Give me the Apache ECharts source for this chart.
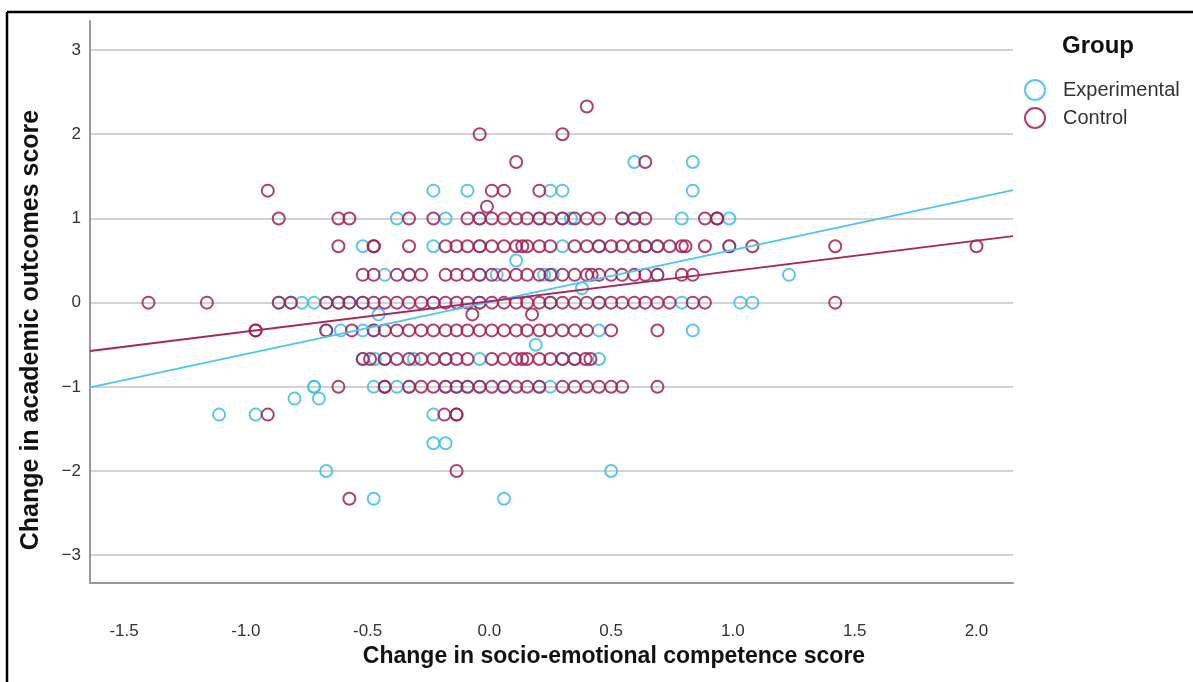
<!DOCTYPE html>
<html>
<head>
<meta charset="utf-8">
<script src="https://cdn.jsdelivr.net/npm/echarts@6/dist/echarts.min.js"></script>
<style>
  html, body { margin: 0; padding: 0; background: #fff; }
  #chart { width: 1193px; height: 682px; }
</style>
</head>
<body>
<div id="chart"></div>
<script>
// score levels (y) and the x positions of circles on each level
var yLevels = [2.33, 2, 1.67, 1.33, 1.14, 1, 0.67, 0.5, 0.33, 0.17, 0, -0.14, -0.33, -0.5, -0.67, -1, -1.14, -1.33, -1.67, -2, -2.33];

var expX = [
  [],
  [],
  [0.595, 0.835],
  [-0.23, -0.09, 0.25, 0.30, 0.835],
  [],
  [-0.38, -0.18, -0.04, 0.205, 0.30, 0.335, 0.545, 0.595, 0.79, 0.985],
  [-0.52, -0.23, -0.04, 0.30, 0.45, 0.64, 0.69, 0.985],
  [0.11],
  [-0.43, -0.33, -0.04, 0.03, 0.225, 0.26, 0.69, 1.23],
  [0.38],
  [-0.865, -0.815, -0.77, -0.72, -0.67, -0.62, -0.575, -0.52, -0.23, -0.04, 0.25, 0.45, 0.79, 1.03, 1.08],
  [-0.455],
  [-0.67, -0.61, -0.52, -0.475, 0.45, 0.835],
  [0.19],
  [-0.52, -0.47, -0.43, -0.31, -0.18, -0.04, 0.30, 0.35, 0.45],
  [-0.72, -0.72, -0.475, -0.38, -0.33, -0.18, -0.135, -0.09, -0.04, 0.06, 0.205, 0.25],
  [-0.80, -0.70],
  [-1.11, -0.96, -0.23],
  [-0.23, -0.18],
  [-0.67, 0.50],
  [-0.475, 0.06]
];

var ctrlX = [
  [0.40],
  [-0.04, 0.30],
  [0.11, 0.64],
  [-0.91, 0.01, 0.06, 0.205],
  [-0.01],
  [-0.865, -0.62, -0.575, -0.33, -0.23, -0.09, -0.04, 0.01, 0.06, 0.11, 0.155, 0.205, 0.25, 0.30, 0.35, 0.40, 0.45, 0.545, 0.595, 0.64, 0.885, 0.935, 0.935],
  [-0.62, -0.475, -0.475, -0.33, -0.18, -0.135, -0.09, -0.04, 0.01, 0.06, 0.11, 0.135, 0.155, 0.205, 0.25, 0.35, 0.40, 0.45, 0.50, 0.545, 0.595, 0.64, 0.69, 0.74, 0.79, 0.805, 0.885, 0.985, 1.08, 1.42, 2.0],
  [],
  [-0.52, -0.475, -0.38, -0.33, -0.28, -0.18, -0.135, -0.09, -0.04, 0.01, 0.06, 0.11, 0.155, 0.205, 0.25, 0.30, 0.35, 0.40, 0.42, 0.45, 0.50, 0.545, 0.595, 0.64, 0.69, 0.79, 0.835],
  [],
  [-1.40, -1.16, -0.865, -0.815, -0.67, -0.62, -0.575, -0.52, -0.475, -0.43, -0.38, -0.33, -0.28, -0.23, -0.18, -0.135, -0.09, -0.04, 0.01, 0.06, 0.11, 0.155, 0.205, 0.25, 0.30, 0.35, 0.40, 0.45, 0.50, 0.545, 0.595, 0.64, 0.69, 0.74, 0.835, 0.885, 1.42],
  [-0.07, 0.175],
  [-0.96, -0.96, -0.67, -0.565, -0.475, -0.43, -0.38, -0.33, -0.28, -0.23, -0.18, -0.135, -0.09, -0.04, 0.01, 0.06, 0.11, 0.155, 0.205, 0.25, 0.30, 0.35, 0.40, 0.50, 0.69],
  [],
  [-0.52, -0.49, -0.43, -0.38, -0.33, -0.28, -0.23, -0.18, -0.135, -0.09, 0.01, 0.06, 0.11, 0.135, 0.155, 0.205, 0.25, 0.30, 0.35, 0.395, 0.415],
  [-0.62, -0.43, -0.43, -0.33, -0.28, -0.23, -0.18, -0.135, -0.09, -0.04, 0.01, 0.06, 0.11, 0.155, 0.205, 0.30, 0.35, 0.40, 0.45, 0.50, 0.545, 0.69],
  [],
  [-0.91, -0.185, -0.135, -0.135],
  [],
  [-0.135],
  [-0.575]
];

// fit lines: [slope, intercept]
var expFit = [0.618, 0.008];
var ctrlFit = [0.36, 0.016];

var xTicks = [-1.5, -1.0, -0.5, 0.0, 0.5, 1.0, 1.5, 2.0];
var yTicks = [-3, -2, -1, 0, 1, 2, 3];

var xMin = -1.64, xMax = 2.15;
var yMin = -3.33, yMax = 3.345;

var expColor = '#3dbcf3';
var ctrlColor = '#a11f57';

function toPoints(rows) {
  var pts = [];
  for (var i = 0; i < rows.length; ++i) {
    for (var j = 0; j < rows[i].length; ++j) {
      pts.push([rows[i][j], yLevels[i]]);
    }
  }
  return pts;
}

function fitLine(fit) {
  return [[xMin, fit[1] + fit[0] * xMin], [xMax, fit[1] + fit[0] * xMax]];
}

var chart = echarts.init(document.getElementById('chart'));

chart.setOption({
  backgroundColor: '#fff',
  animation: false,
  grid: { left: 90, right: 180, top: 21, bottom: 99 },
  xAxis: {
    type: 'value',
    min: xMin,
    max: xMax,
    axisLine: { show: true, onZero: false, lineStyle: { color: '#999', width: 2 } },
    axisTick: { show: false, customValues: xTicks },
    splitLine: { show: false },
    axisLabel: {
      customValues: xTicks,
      margin: 40,
      color: '#333',
      fontSize: 17,
      fontFamily: '"Liberation Sans", Arial, sans-serif',
      formatter: function(v) { return v.toFixed(1); }
    }
  },
  yAxis: {
    type: 'value',
    min: yMin,
    max: yMax,
    axisLine: { show: true, onZero: false, lineStyle: { color: '#999', width: 2 } },
    axisTick: { show: false, customValues: yTicks },
    splitLine: { show: true, lineStyle: { color: '#c4c4c4', width: 1.5 } },
    axisLabel: {
      customValues: yTicks,
      margin: 9,
      color: '#333',
      fontSize: 17,
      fontFamily: '"Liberation Sans", Arial, sans-serif',
      formatter: function(v) { return v < 0 ? '\u2212' + Math.abs(v) : String(v); }
    }
  },
  legend: {
    orient: 'vertical',
    left: 1019,
    top: 74,
    itemWidth: 46,
    itemHeight: 20,
    itemGap: 6,
    data: ['Experimental', 'Control'],
    textStyle: { color: '#333', fontSize: 20, fontFamily: '"Liberation Sans", Arial, sans-serif' }
  },
  graphic: [
    { type: 'line', shape: { x1: 7, y1: 12, x2: 1193, y2: 12 }, style: { stroke: '#000', lineWidth: 2.5 } },
    { type: 'line', shape: { x1: 7, y1: 12, x2: 7, y2: 682 }, style: { stroke: '#000', lineWidth: 2.5 } },
    {
      type: 'text', left: 1062, top: 34,
      style: { text: 'Group', fill: '#111', font: 'bold 24px "Liberation Sans", Arial, sans-serif' }
    },
    {
      type: 'text', x: 614, y: 657,
      style: {
        text: 'Change in socio-emotional competence score', fill: '#111',
        align: 'center', verticalAlign: 'middle',
        font: 'bold 23px "Liberation Sans", Arial, sans-serif'
      }
    },
    {
      type: 'text', x: 31, y: 330, rotation: Math.PI / 2,
      style: {
        text: 'Change in academic outcomes score', fill: '#111',
        align: 'center', verticalAlign: 'middle',
        font: 'bold 25px "Liberation Sans", Arial, sans-serif'
      }
    }
  ],
  series: [
    {
      name: 'Experimental',
      type: 'scatter',
      symbol: 'circle',
      symbolSize: 12,
      data: toPoints(expX),
      itemStyle: { color: 'rgba(255,255,255,0)', borderColor: expColor, borderWidth: 2, opacity: 0.85 },
      z: 3
    },
    {
      name: 'Control',
      type: 'scatter',
      symbol: 'circle',
      symbolSize: 12,
      data: toPoints(ctrlX),
      itemStyle: { color: 'rgba(255,255,255,0)', borderColor: ctrlColor, borderWidth: 2, opacity: 0.85 },
      z: 4
    },
    {
      name: 'Experimental fit',
      type: 'line',
      data: fitLine(expFit),
      symbol: 'none',
      silent: true,
      lineStyle: { color: '#4fc3f7', width: 1.8 },
      z: 5
    },
    {
      name: 'Control fit',
      type: 'line',
      data: fitLine(ctrlFit),
      symbol: 'none',
      silent: true,
      lineStyle: { color: '#a3285e', width: 1.8 },
      z: 5
    }
  ]
});
</script>
</body>
</html>
